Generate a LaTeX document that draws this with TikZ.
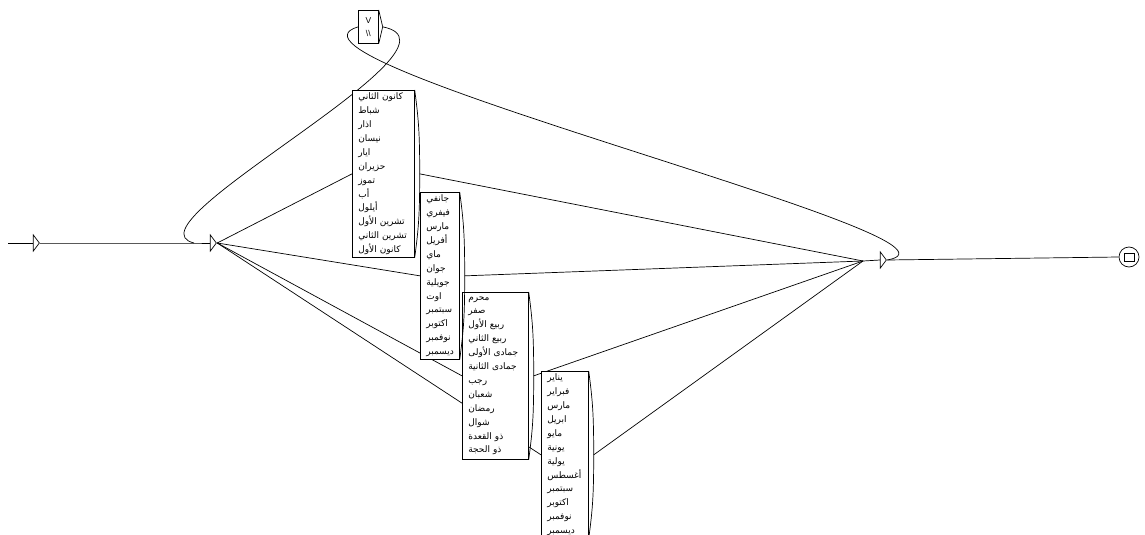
\documentclass[tikz,border=0pt]{standalone}
\usepackage{fontspec}
\setmainfont{Liberation Sans}
\newfontfamily\arabicfont[Script=Arabic]{DejaVu Sans}
\TeXXeTstate=1
\usetikzlibrary{calc,backgrounds,shapes.geometric}
\newcommand{\ar}[1]{\beginR#1\endR}
\tikzset{
  month box/.style={draw,fill=white,line width=0.7pt,anchor=north west,inner xsep=6pt,inner ysep=0pt,
    text width=#1,minimum height=167pt,align=left,font=\arabicfont\fontsize{9}{13.9}\selectfont},
  eps tri/.style={draw,fill=white,line width=0.7pt,isosceles triangle,isosceles triangle stretches,
    inner sep=0pt,minimum width=16pt,minimum height=6pt},
  trans/.style={draw,line width=0.7pt}
}
\newcommand{\closebrace}[1]{\draw[trans] (#1.north east) .. controls +(4,30) and +(0,-40) .. (#1t)
  .. controls +(0,40) and +(4,-30) .. (#1.south east);}

\begin{document}
\begin{tikzpicture}[x=1pt,y=-1pt]
  \useasboundingbox (0,0) rectangle (1145,535);

  % start, the two empty boxes and the final state
  \coordinate (start) at (8,243);
  \node[eps tri] (init) at (36,243) {};
  \coordinate (e1in) at (194,243);
  \node[eps tri] (e1) at (213,243) {};
  \coordinate (e2in) at (863,261);
  \node[eps tri] (e2) at (883,260) {};
  \node[draw,circle,line width=0.7pt,minimum size=20pt,inner sep=0pt] (fin) at (1129,257) {};
  \node[draw,line width=0.7pt,minimum width=10pt,minimum height=8pt,inner sep=0pt] (finsq) at (fin) {};

  % loop box
  \node[draw,fill=white,line width=0.7pt,anchor=north west,minimum width=20pt,minimum height=33pt,
    inner sep=0pt,align=center,font=\fontsize{8.5}{13}\selectfont] (loop) at (358,10)
    {V\\\textbackslash\textbackslash};
  \coordinate (loopt) at ($(loop.east)+(4,0)$);

  % month boxes
  \node[month box=50pt] (b1) at (352,90)
    {\ar{كانون الثاني}\\\ar{شباط}\\\ar{اذار}\\\ar{نيسان}\\\ar{ايار}\\\ar{حزيران}\\
     \ar{تموز}\\\ar{أب}\\\ar{أيلول}\\\ar{تشرين الأول}\\\ar{تشرين الثاني}\\\ar{كانون الأول}};
  \node[month box=27pt] (b2) at (420,192)
    {\ar{جانفي}\\\ar{فيفري}\\\ar{مارس}\\\ar{أفريل}\\\ar{ماي}\\\ar{جوان}\\
     \ar{جويلية}\\\ar{اوت}\\\ar{سبتمبر}\\\ar{اكتوبر}\\\ar{نوفمبر}\\\ar{ديسمبر}};
  \node[month box=54pt] (b3) at (462,292)
    {\ar{محرم}\\\ar{صفر}\\\ar{ربيع الأول}\\\ar{ربيع الثاني}\\\ar{جمادى الأولى}\\\ar{جمادى الثانية}\\
     \ar{رجب}\\\ar{شعبان}\\\ar{رمضان}\\\ar{شوال}\\\ar{ذو القعدة}\\\ar{ذو الحجة}};
  \node[month box=35pt] (b4) at (541,371)
    {\ar{يناير}\\\ar{فبراير}\\\ar{مارس}\\\ar{ابريل}\\\ar{مايو}\\\ar{يونية}\\
     \ar{يولية}\\\ar{أغسطس}\\\ar{سبتمبر}\\\ar{اكتوبر}\\\ar{نوفمبر}\\\ar{ديسمبر}};
  \foreach \b in {b1,b2,b3,b4}{\coordinate (\b t) at ($(\b.east)+(5,0)$);}

  \begin{scope}[on background layer]
    \draw[trans] (start) -- (init.west);
    \draw[trans] (init.apex) -- (e1in) -- (e1.west);
    \foreach \b in {b1,b2,b3,b4}{\draw[trans] (e1.apex) -- (\b.west);}
    \foreach \b in {b1t,b2t,b3t,b4t}{\draw[trans] (\b) -- (e2in);}
    \draw[trans] (e2in) -- (e2.west);
    \draw[trans] (e2.apex) -- (fin.west);
    % loop through the V box
    \draw[trans] (e2.apex) .. controls +(113,-20) and +(-108,33) .. (loop.west);
    \draw[trans] (loopt) .. controls +(98,19) and +(-74,-18) .. (e1in);
  \end{scope}

  % right hand braces
  \foreach \b in {b1,b2,b3,b4}{\closebrace{\b}}
  \draw[trans] (loop.north east) -- (loopt) -- (loop.south east);
\end{tikzpicture}
\end{document}
